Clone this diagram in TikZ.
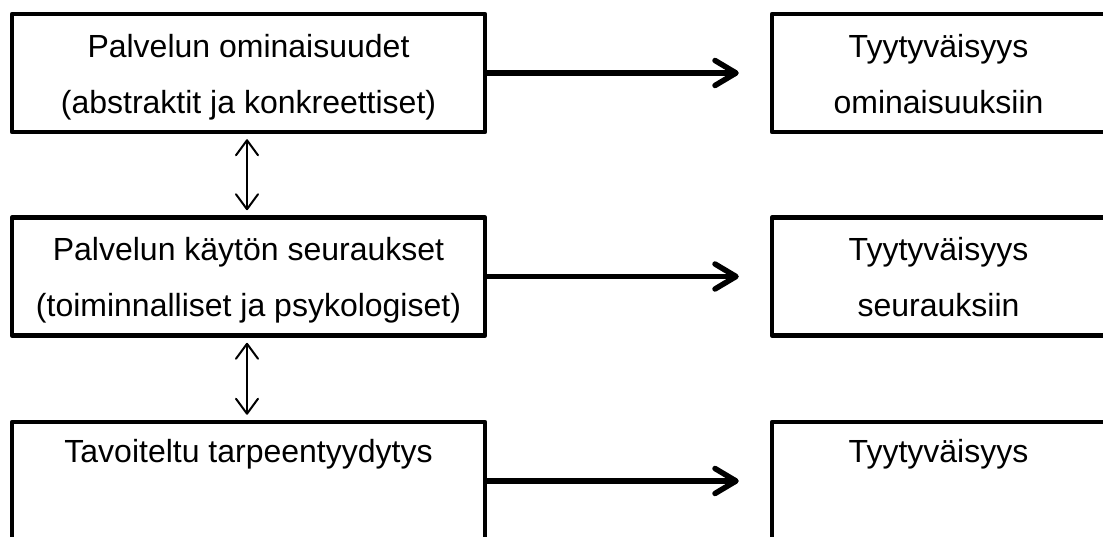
\documentclass[tikz,border=0pt]{standalone}
\usepackage{fontspec}
\setmainfont{Liberation Sans}
\usetikzlibrary{arrows.meta,calc}
\begin{document}
\begin{tikzpicture}[x=1pt,y=-1pt,
  box/.style={draw=black,line width=4.5pt,rectangle,inner sep=0pt,line join=round},
  lbox/.style={box,minimum width=473pt,minimum height=118pt},
  rbox/.style={box,minimum width=333pt,minimum height=118pt},
  txt/.style={anchor=base,inner sep=0pt,font=\fontsize{32pt}{38pt}\selectfont},
  bigarrow/.style={line width=5.5pt,-{Straight Barb[round,length=21pt,width=25pt]},shorten >=31pt},
  dblarrow/.style={line width=2pt,{Straight Barb[round,length=15pt,width=22pt]}-{Straight Barb[round,length=15pt,width=22pt]},shorten <=5pt,shorten >=5pt}
]
\useasboundingbox (0,0) rectangle (1103,537);
\clip (0,0) rectangle (1103,537);
\fill[white] (0,0) rectangle (1103,537);

% boxes
\node[lbox] (L1) at (248.5,73) {};
\node[rbox] (R1) at (938.5,73) {};
\node[lbox] (L2) at (248.5,276.5) {};
\node[rbox] (R2) at (938.5,276.5) {};
\node[lbox] (L3) at (248.5,481) {};
\node[rbox] (R3) at (938.5,481) {};

% texts
\node[txt] (L1a) at ($(L1.north)+(0,46)$) {Palvelun ominaisuudet};
\node[txt] (L1b) at ($(L1.north)+(0,102)$) {(abstraktit ja konkreettiset)};
\node[txt] (R1a) at ($(R1.north)+(0,46)$) {Tyytyväisyys};
\node[txt] (R1b) at ($(R1.north)+(0,102)$) {ominaisuuksiin};
\node[txt] (L2a) at ($(L2.north)+(0,45)$) {Palvelun käytön seuraukset};
\node[txt] (L2b) at ($(L2.north)+(0,101)$) {(toiminnalliset ja psykologiset)};
\node[txt] (R2a) at ($(R2.north)+(0,45)$) {Tyytyväisyys};
\node[txt] (R2b) at ($(R2.north)+(0,101)$) {seurauksiin};
\node[txt] (L3a) at ($(L3.north)+(0,43)$) {Tavoiteltu tarpeentyydytys};
\node[txt] (R3a) at ($(R3.north)+(0,43)$) {Tyytyväisyys};

% connectors
\draw[bigarrow] (L1.east) -- (R1.west);
\draw[bigarrow] (L2.east) -- (R2.west);
\draw[bigarrow] (L3.east) -- (R3.west);
\draw[dblarrow] ($(L1.south)+(-1.5,0)$) -- ($(L2.north)+(-1.5,0)$);
\draw[dblarrow] ($(L2.south)+(-1.5,0)$) -- ($(L3.north)+(-1.5,0)$);
\end{tikzpicture}
\end{document}
